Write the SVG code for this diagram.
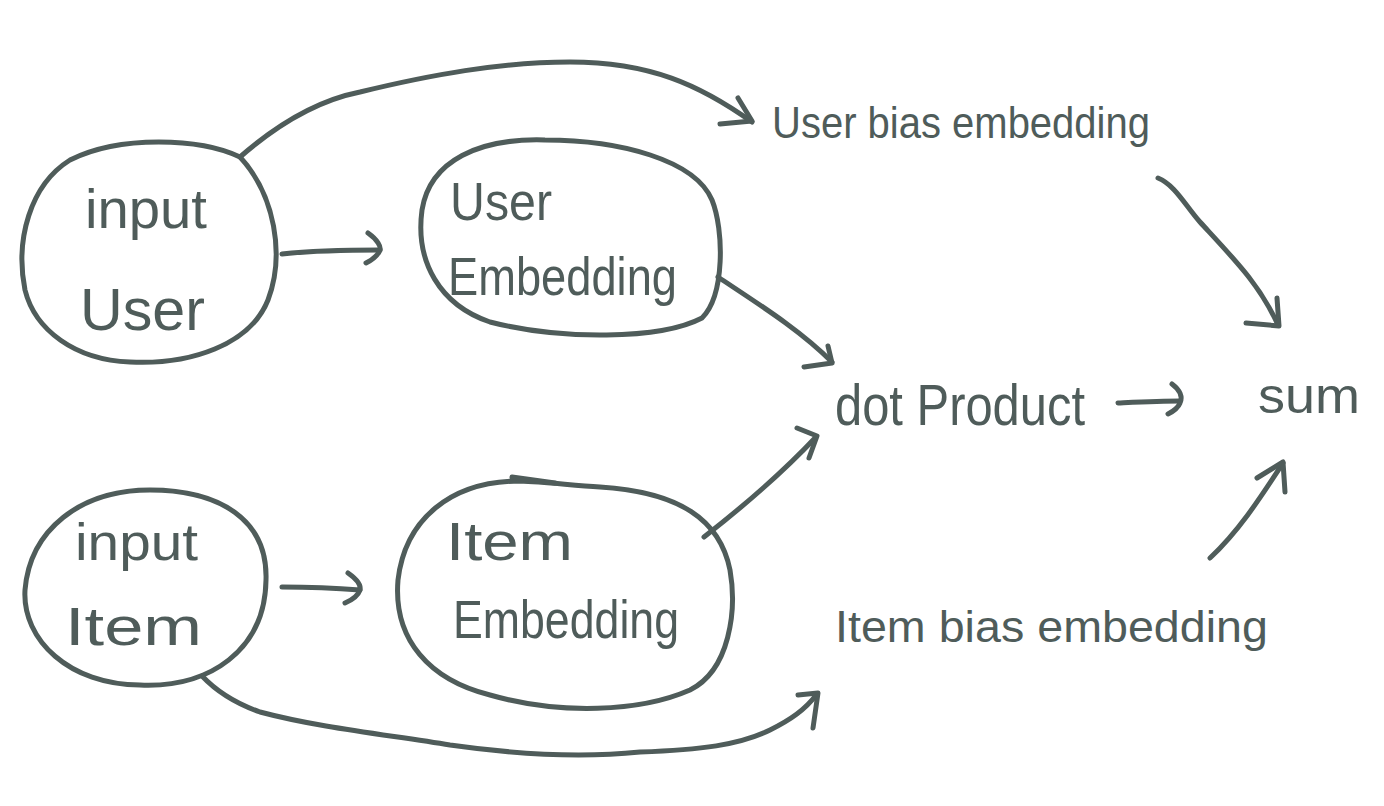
<svg xmlns="http://www.w3.org/2000/svg" width="1384" height="806" viewBox="0 0 1384 806">
<style>
.s{fill:none;stroke:#4f5c5a;stroke-width:5;stroke-linecap:round;stroke-linejoin:round}
.t{fill:#4f5c5a;font-family:"Liberation Sans Narrow","Liberation Sans",sans-serif;font-weight:normal}
</style>
<rect width="1384" height="806" fill="#ffffff"/>
<g id="input-user">
<path class="s" d="M240,157 C200,138 120,135 70,160 C30,185 15,240 25,290 C35,330 75,360 130,362 C190,365 250,345 268,300 C285,255 275,195 240,157 Z"/>
<text class="t" x="85" y="228" font-size="56" textLength="122" lengthAdjust="spacingAndGlyphs">input</text>
<text class="t" x="80" y="330" font-size="60" textLength="125" lengthAdjust="spacingAndGlyphs">User</text>
</g>
<g id="user-embedding">
<path class="s" d="M545,140 C480,138 430,160 422,210 C415,262 440,305 490,322 C560,340 660,340 702,318 C725,295 724,230 712,200 C695,160 620,140 545,140 Z"/>
<text class="t" x="450" y="220" font-size="54" textLength="102" lengthAdjust="spacingAndGlyphs">User</text>
<text class="t" x="448" y="295" font-size="54" textLength="229" lengthAdjust="spacingAndGlyphs">Embedding</text>
</g>
<g id="input-item">
<path class="s" d="M150,490 C80,490 30,530 25,590 C22,640 70,685 140,685 C210,688 265,650 266,580 C268,520 220,490 150,490 Z"/>
<text class="t" x="75" y="560" font-size="52" textLength="123" lengthAdjust="spacingAndGlyphs">input</text>
<text class="t" x="65" y="645" font-size="54" textLength="137" lengthAdjust="spacingAndGlyphs">Item</text>
</g>
<g id="item-embedding">
<path class="s" d="M520,481 C450,481 405,520 398,580 C393,640 430,680 490,695 C560,715 640,712 690,690 C730,670 737,610 730,570 C720,520 680,492 600,487 C570,485 545,482 520,481 Z"/>
<path class="s" d="M512,477 L555,483"/>
<text class="t" x="446" y="560" font-size="54" textLength="127" lengthAdjust="spacingAndGlyphs">Item</text>
<text class="t" x="453" y="638" font-size="54" textLength="226" lengthAdjust="spacingAndGlyphs">Embedding</text>
</g>
<g id="user-bias">
<text class="t" x="772" y="138" font-size="44" textLength="378" lengthAdjust="spacingAndGlyphs">User bias embedding</text>
</g>
<g id="dot-product">
<text class="t" x="835" y="425" font-size="58" textLength="250" lengthAdjust="spacingAndGlyphs">dot Product</text>
</g>
<g id="sum">
<text class="t" x="1258" y="413" font-size="50" textLength="102" lengthAdjust="spacingAndGlyphs">sum</text>
</g>
<g id="item-bias">
<text class="t" x="835" y="642" font-size="44" textLength="433" lengthAdjust="spacingAndGlyphs">Item bias embedding</text>
</g>
<g id="connectors">
<path class="s" d="M240,157 C280,122 320,100 360,92 C430,75 500,62 570,62 C650,62 700,85 752,122"/>
<path class="s" d="M738,98 L752,121 L720,124"/>
<path class="s" d="M282,254 C310,251 345,250 380,250"/>
<path class="s" d="M368,233 C378,240 381,247 380,250 C378,255 372,260 366,263"/>
<path class="s" d="M282,587 C310,587 335,588 360,590"/>
<path class="s" d="M348,573 C358,580 361,586 360,590 C358,596 352,600 345,603"/>
<path class="s" d="M718,277 C760,305 800,330 832,362"/>
<path class="s" d="M828,346 L832,363 L804,367"/>
<path class="s" d="M704,537 C745,505 785,470 816,437"/>
<path class="s" d="M797,428 L817,436 L809,458"/>
<path class="s" d="M1118,403 C1140,402 1160,401 1180,401"/>
<path class="s" d="M1172,384 C1180,390 1183,397 1180,403 C1178,408 1172,412 1168,414"/>
<path class="s" d="M1158,178 C1175,185 1185,205 1200,222 C1235,260 1260,285 1278,325"/>
<path class="s" d="M1246,323 L1279,326 L1277,298"/>
<path class="s" d="M1210,558 C1240,530 1262,495 1283,463"/>
<path class="s" d="M1257,478 L1283,462 L1285,492"/>
<path class="s" d="M202,676 C220,695 240,705 260,712 C320,728 390,735 450,745 C520,755 580,758 640,752 C700,750 740,745 770,730 C790,720 805,710 817,694"/>
<path class="s" d="M798,695 L818,693 L813,728"/>
</g>
</svg>
